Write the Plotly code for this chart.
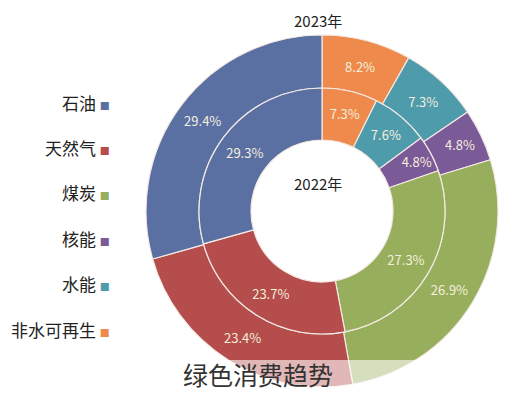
import plotly.graph_objects as go

# energy mix, share of total (%)
categories = ['石油', '天然气', '煤炭', '核能', '水能', '非水可再生']
share_2023 = [29.4, 23.4, 26.9, 4.8, 7.3, 8.2]
share_2022 = [29.3, 23.7, 27.3, 4.8, 7.6, 7.3]
colors = ['#5A70A3', '#B44D4B', '#97AE5C', '#7B5A98', '#4E9BAC', '#EE8B4C']

W, H = 518, 400
OFF = 8                    # page body margin the figure sits in
cx, cy = 322 - OFF, 211 - OFF   # pie centre in figure pixels
r_out, r_mid, r_hole = 176, 123, 71
FONT = 'Noto Sans CJK SC'


def px(x, y):
    # reference-page pixels -> paper coords
    return (x - OFF) / W, 1 - (y - OFF) / H


def domain(r):
    return dict(
        x=[(cx - r) / W, (cx + r) / W],
        y=[1 - (cy + r) / H, 1 - (cy - r) / H],
    )


def ring(values, r, hole, name):
    # reference runs counter-clockwise from 12 o'clock: draw reversed, clockwise
    return go.Pie(
        name=name,
        labels=categories[::-1],
        values=values[::-1],
        domain=domain(r),
        hole=hole,
        sort=False,
        direction='clockwise',
        marker=dict(colors=colors[::-1], line=dict(color='#F4E9E4', width=1.2)),
        texttemplate='%{value:.1f}%',
        textposition='inside',
        insidetextorientation='horizontal',
        textfont=dict(size=13, color='#F5EEDC', family=FONT),
        showlegend=False,
        hoverinfo='label+value+name',
    )


fig = go.Figure([
    ring(share_2023, r_out, r_mid / r_out, '2023年'),
    ring(share_2022, r_mid, r_hole / r_mid, '2022年'),
])


def note(text, x, y, size, color='#222222', **kw):
    ax, ay = px(x, y)
    return dict(text=text, x=ax, y=ay, showarrow=False, yanchor='middle',
                font=dict(size=size, color=color), **kw)


annotations = [
    note('2023年', 318, 20, 15),
    note('2022年', 318, 183, 15),
    note('绿色消费趋势', 258, 374, 25, '#333333'),
]

# legend (text with the colour square on its right)
for i, (name, c) in enumerate(zip(categories, colors)):
    annotations.append(note(
        f"{name} <span style='color:{c};font-size:10px'>■</span>",
        112, 102 + i * 45.4, 17, xanchor='right',
    ))

fig.update_layout(
    width=W, height=H,
    margin=dict(l=0, r=0, t=0, b=0),
    paper_bgcolor='white',
    font=dict(family=FONT),
    uniformtext=dict(minsize=13, mode='show'),
    annotations=annotations,
    shapes=[dict(type='rect', xref='paper', yref='paper',
                 x0=0, x1=1, y0=0, y1=px(0, 360)[1],
                 fillcolor='rgba(255,255,255,0.6)', line=dict(width=0))],
)

fig.write_html('out.html')
